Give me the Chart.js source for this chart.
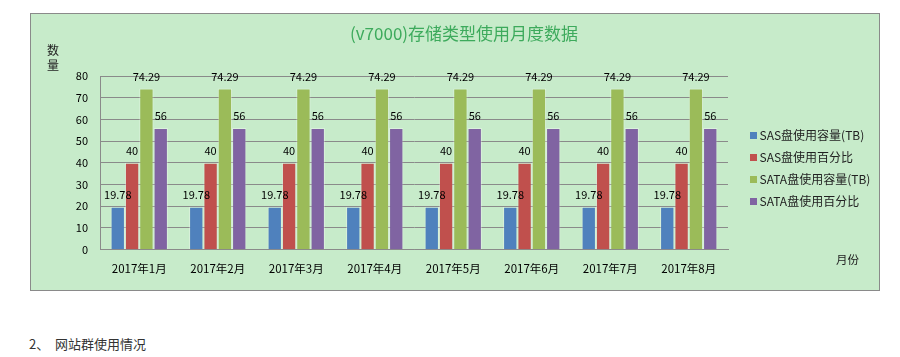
<!DOCTYPE html>
<html>
<head>
<meta charset="utf-8">
<script src="https://cdn.jsdelivr.net/npm/chart.js@4/dist/chart.umd.min.js"></script>
<style>
  html, body { margin: 0; padding: 0; background: #ffffff; width: 900px; height: 357px; overflow: hidden; }
  body { position: relative; font-family: "Noto Sans CJK SC", "Noto Sans", sans-serif; }
  #box { position: absolute; left: 30px; top: 13px; width: 848px; height: 276px; border: 1px solid #8a8a8a; background: #c7ebca; }
  #chart { position: absolute; left: 31px; top: 14px; }
  .t { position: absolute; white-space: nowrap; }
  #title { left: 350px; width: 226px; top: 22px; font-size: 17px; line-height: 22px; color: #3daa5c; text-align: center; }
  #ylab { left: 47px; top: 42px; width: 13px; font-size: 12px; line-height: 15px; color: #222; }
  #xlab { left: 836px; top: 251px; font-size: 11.5px; line-height: 16px; color: #222; }
  #legend { position: absolute; left: 750px; top: 124px; margin: 0; padding: 0; list-style: none; }
  #legend li { height: 22px; line-height: 22px; font-size: 12px; color: #222; white-space: nowrap; position: relative; padding-left: 9.5px; }
  #legend li span { position: absolute; left: 0; top: 7.5px; width: 7px; height: 7px; }
  #foot { left: 29px; top: 335px; font-size: 13px; line-height: 18px; color: #333; }
</style>
</head>
<body>
<div id="box"></div>
<canvas id="chart" width="848" height="276"></canvas>
<div class="t" id="title">(v7000)存储类型使用月度数据</div>
<div class="t" id="ylab" style="white-space:normal">数<br>量</div>
<div class="t" id="xlab">月份</div>
<ul id="legend"></ul>
<div class="t" id="foot">2、&nbsp; 网站群使用情况</div>
<script>
const categories = ["2017年1月", "2017年2月", "2017年3月", "2017年4月", "2017年5月", "2017年6月", "2017年7月", "2017年8月"];
const seriesNames = ["SAS盘使用容量(TB)", "SAS盘使用百分比", "SATA盘使用容量(TB)", "SATA盘使用百分比"];
const sasCapacity = [19.78, 19.78, 19.78, 19.78, 19.78, 19.78, 19.78, 19.78];
const sasPercent = [40, 40, 40, 40, 40, 40, 40, 40];
const sataCapacity = [74.29, 74.29, 74.29, 74.29, 74.29, 74.29, 74.29, 74.29];
const sataPercent = [56, 56, 56, 56, 56, 56, 56, 56];
const yTicks = [0, 10, 20, 30, 40, 50, 60, 70, 80];

const colors = ["#4f81bd", "#c0504d", "#9bbb59", "#8064a2"];
const seriesData = [sasCapacity, sasPercent, sataCapacity, sataPercent];
const FONT = '"Noto Sans CJK SC", "Noto Sans", sans-serif';

const valueLabels = {
  id: 'valueLabels',
  afterDatasetsDraw(chart) {
    const ctx = chart.ctx;
    ctx.save();
    ctx.font = '11px ' + FONT;
    ctx.fillStyle = '#000';
    ctx.textAlign = 'center';
    ctx.textBaseline = 'middle';
    chart.data.datasets.forEach((ds, i) => {
      const meta = chart.getDatasetMeta(i);
      meta.data.forEach((bar, j) => {
        ctx.fillText(String(ds.data[j]), bar.x, bar.y - 12);
      });
    });
    ctx.restore();
  }
};

const chart = new Chart(document.getElementById('chart'), {
  type: 'bar',
  data: {
    labels: categories,
    datasets: seriesNames.map((name, i) => ({
      label: name,
      data: seriesData[i],
      backgroundColor: colors[i],
      borderColor: 'rgba(255,255,255,0.35)',
      borderWidth: 1,
      categoryPercentage: 0.73,
      barPercentage: 1.0
    }))
  },
  options: {
    responsive: false,
    animation: false,
    devicePixelRatio: 1,
    layout: { padding: { left: 29, right: 151, top: 62, bottom: 0 } },
    plugins: {
      legend: { display: false },
      title: { display: false },
      tooltip: { enabled: false }
    },
    scales: {
      x: {
        grid: { display: false, drawTicks: false },
        border: { display: true, color: '#8a8a8a', width: 1 },
        ticks: { color: '#000', font: { family: FONT, size: 11.5 }, padding: 12, maxRotation: 0, autoSkip: false },
        afterFit(scale) { scale.height = 40.3; }
      },
      y: {
        min: 0,
        max: 80,
        afterBuildTicks(scale) { scale.ticks = yTicks.map(v => ({ value: v })); },
        grid: { color: '#8a8a8a', lineWidth: 1, drawTicks: false },
        border: { display: true, color: '#8a8a8a', width: 1 },
        ticks: { color: '#000', font: { family: FONT, size: 11 }, padding: 12 },
        afterFit(scale) { scale.width = 40; }
      }
    }
  },
  plugins: [valueLabels]
});

const legend = document.getElementById('legend');
chart.data.datasets.forEach(ds => {
  const li = document.createElement('li');
  const sw = document.createElement('span');
  sw.style.background = ds.backgroundColor;
  li.appendChild(sw);
  li.appendChild(document.createTextNode(ds.label));
  legend.appendChild(li);
});
</script>
</body>
</html>
